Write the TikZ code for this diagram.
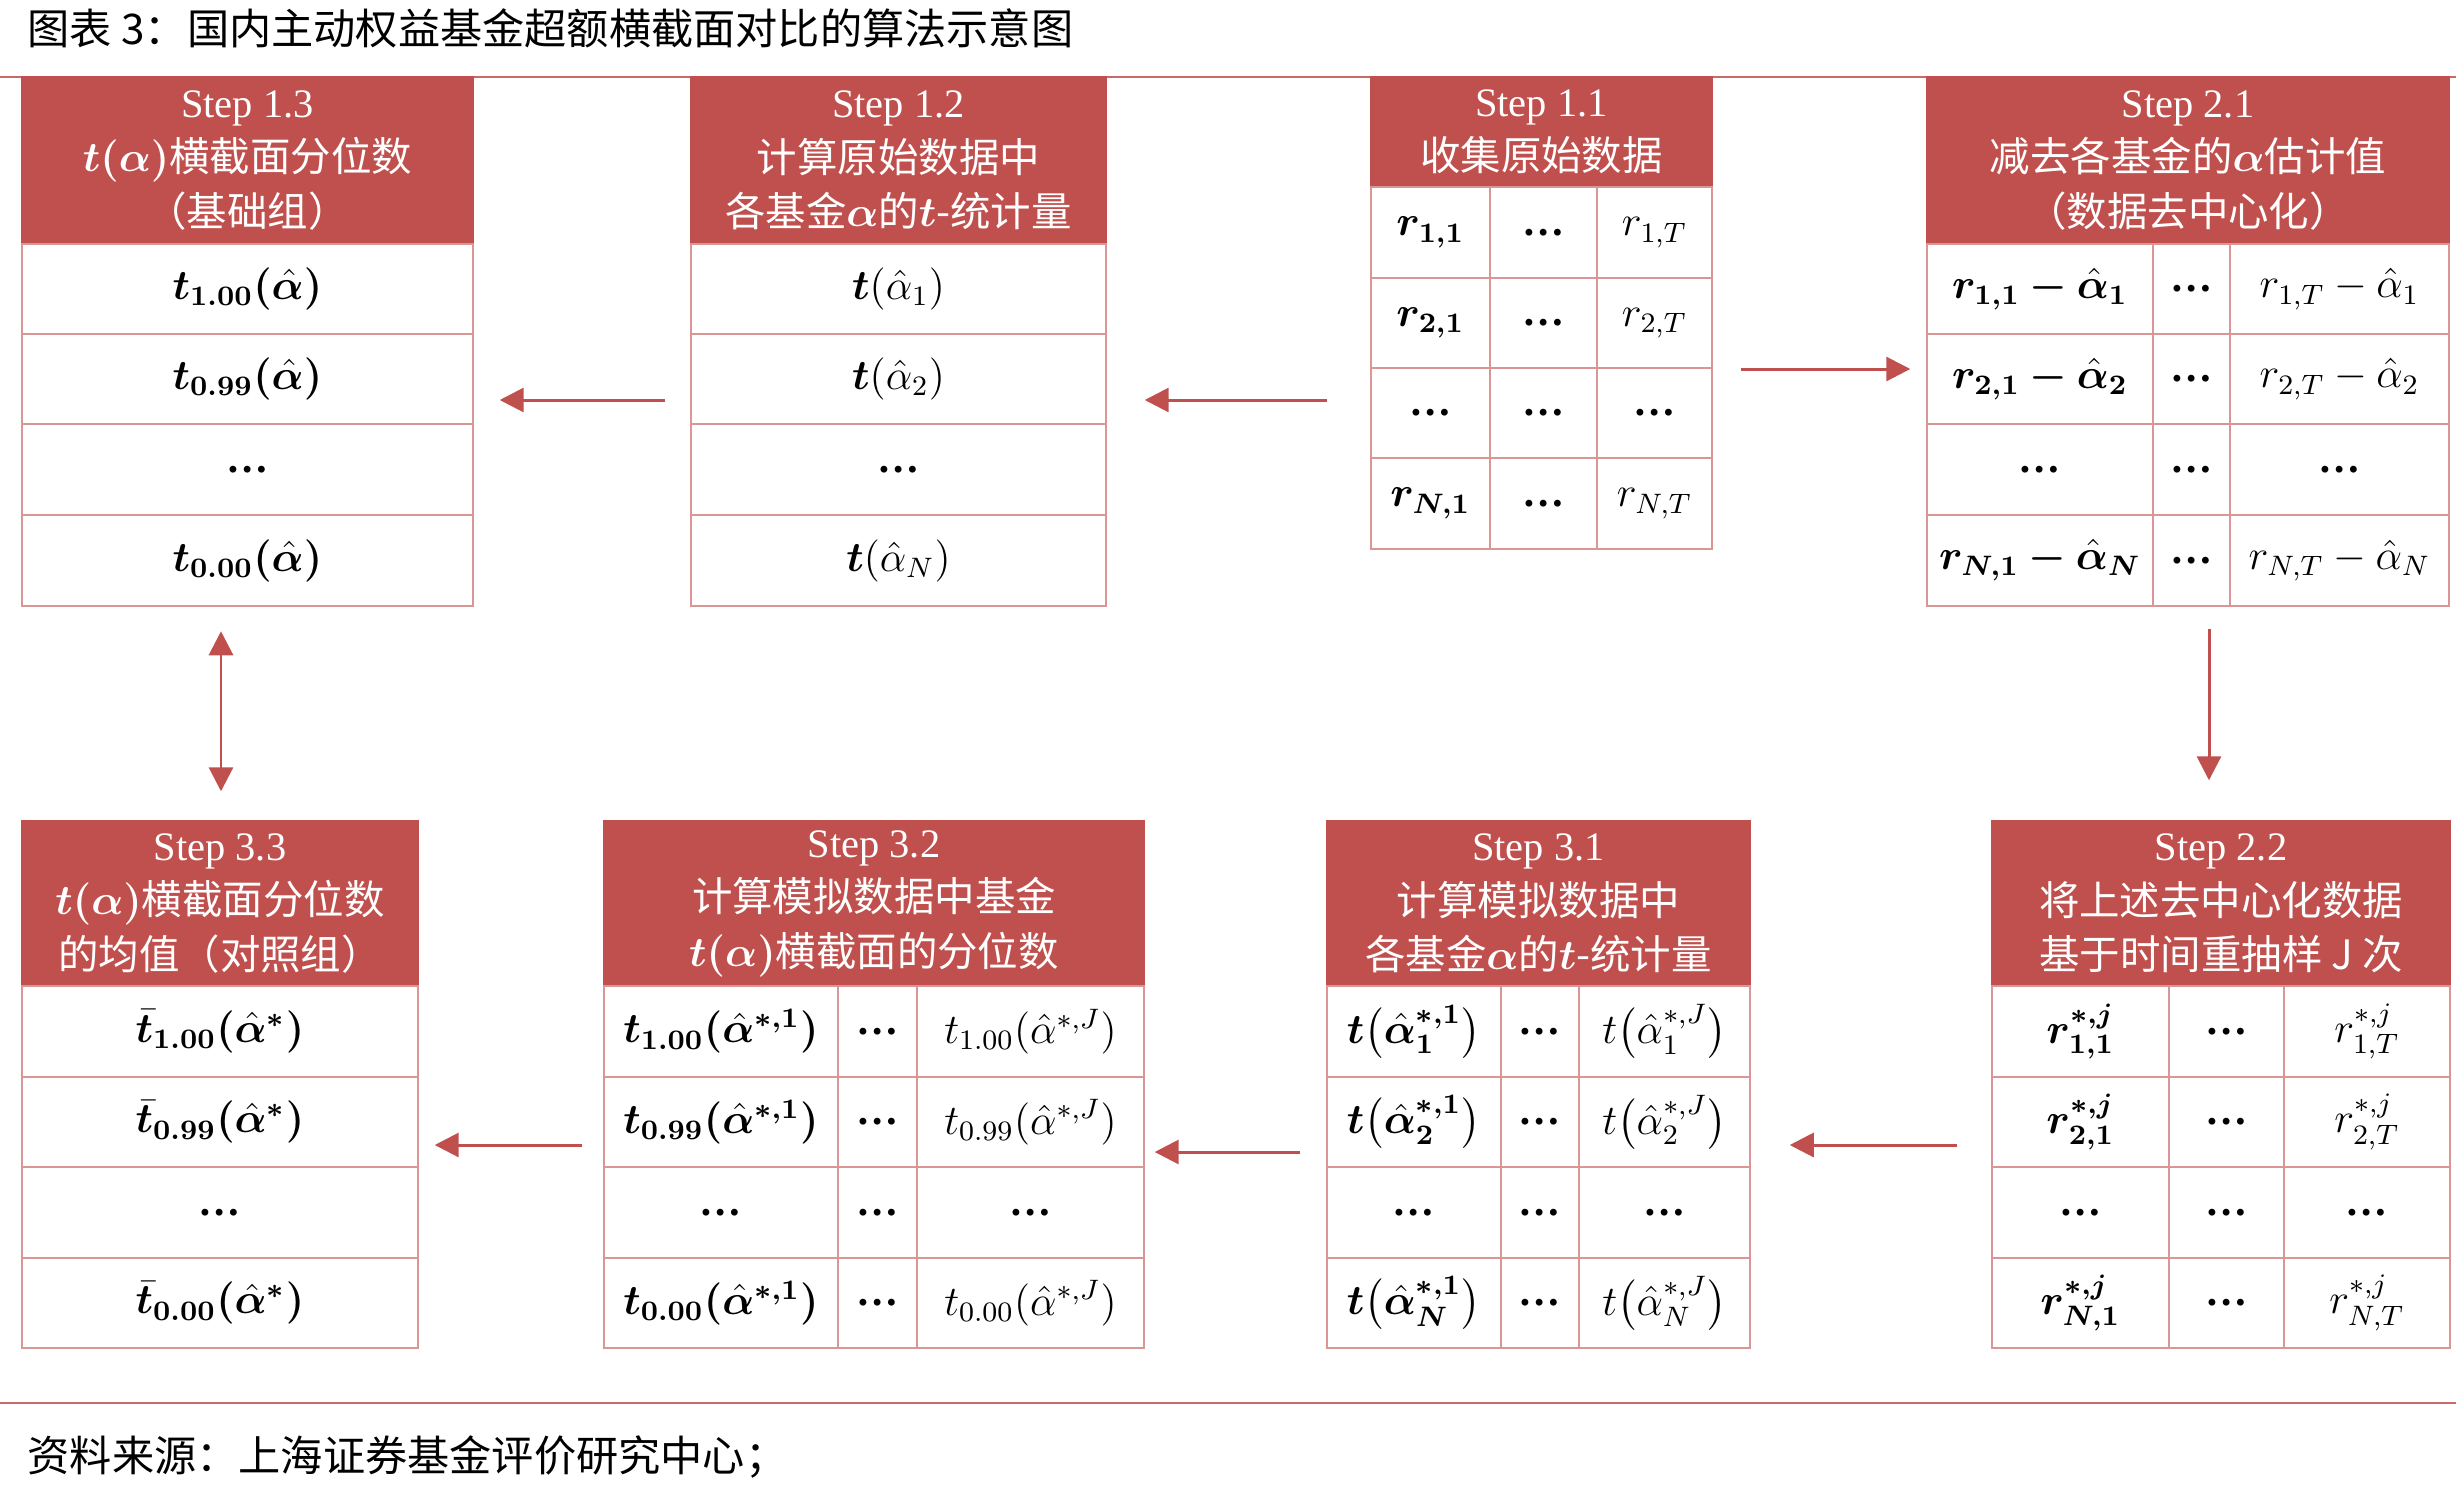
\documentclass[tikz,border=0pt]{standalone}
\usepackage{amsmath}
\usepackage{bm}
\usepackage{fontspec}
\setmainfont{Liberation Serif}
\newfontfamily\cjk{Noto Sans CJK SC}
\usetikzlibrary{arrows.meta}
\definecolor{hdred}{HTML}{C0504D}
\definecolor{cellpink}{HTML}{DA9694}
\newcommand\dotcell{\textbf{…}}

\tikzset{
  cellspan/.style n args={4}{minimum width={(#3-#1)*0.01cm},
    minimum height={(#4-#2)*0.01cm}, at={({(#1+#3)/2},{(#2+#4)/2})}},
  hdr/.style={fill=hdred, draw=hdred, text=white, inner sep=0pt, align=center,
    font=\cjk\fontsize{11.5}{15.5}\selectfont},
  cell/.style={draw=cellpink, line width=0.7pt, inner sep=0pt,
    font=\fontsize{12}{14}\selectfont},
  flow/.style={draw=hdred, line width=0.85pt,
    >={Triangle[length=0.24cm,width=0.24cm]}, ->},
  twoway/.style={flow, <->},
  rule/.style={draw=hdred!85, line width=0.6pt},
  caption/.style={anchor=west, inner sep=0pt, font=\cjk\fontsize{12}{14}\selectfont},
}

\begin{document}
\begin{tikzpicture}[x=0.01cm,y=-0.01cm]
  \useasboundingbox (0,0) rectangle (2456,1493);

  \node[caption] (title) at (27,28) {图表 3：国内主动权益基金超额横截面对比的算法示意图};
  \node[caption] (source) at (27,1457) {资料来源：上海证券基金评价研究中心；};
  \draw[rule] (0,77) -- (2456,77);
  \draw[rule] (0,1403) -- (2456,1403);

  % headers
  \node[hdr, cellspan={22}{77}{473}{244}] (h13)
    {\textrm{Step 1.3}\\$\bm{t(\alpha)}$横截面分位数\\（基础组）};
  \node[hdr, cellspan={691}{77}{1106}{244}] (h12)
    {\textrm{Step 1.2}\\计算原始数据中\\各基金$\bm{\alpha}$的$\bm{t}$-统计量};
  \node[hdr, cellspan={1371}{77}{1712}{187}] (h11)
    {\textrm{Step 1.1}\\收集原始数据};
  \node[hdr, cellspan={1927}{77}{2449}{244}] (h21)
    {\textrm{Step 2.1}\\减去各基金的$\bm{\alpha}$估计值\\（数据去中心化）};
  \node[hdr, cellspan={22}{821}{418}{986}] (h33)
    {\textrm{Step 3.3}\\$\bm{t(\alpha)}$横截面分位数\\的均值（对照组）};
  \node[hdr, cellspan={604}{821}{1144}{986}] (h32)
    {\textrm{Step 3.2}\\计算模拟数据中基金\\$\bm{t(\alpha)}$横截面的分位数};
  \node[hdr, cellspan={1327}{821}{1750}{986}] (h31)
    {\textrm{Step 3.1}\\计算模拟数据中\\各基金$\bm{\alpha}$的$\bm{t}$-统计量};
  \node[hdr, cellspan={1992}{821}{2450}{986}] (h22)
    {\textrm{Step 2.2}\\将上述去中心化数据\\基于时间重抽样 J 次};

  % one-column tables
  \foreach \ya/\yb/\val [count=\i] in {244/334/{$\bm{t_{1.00}(\hat\alpha)}$},
      334/424/{$\bm{t_{0.99}(\hat\alpha)}$}, 424/515/\dotcell,
      515/606/{$\bm{t_{0.00}(\hat\alpha)}$}}
    \node[cell, cellspan={22}{\ya}{473}{\yb}] (c13-\i) {\val};

  \foreach \ya/\yb/\val [count=\i] in {244/334/{$\bm{t}(\hat\alpha_1)$},
      334/424/{$\bm{t}(\hat\alpha_2)$}, 424/515/\dotcell,
      515/606/{$\bm{t}(\hat\alpha_N)$}}
    \node[cell, cellspan={691}{\ya}{1106}{\yb}] (c12-\i) {\val};

  \foreach \ya/\yb/\val [count=\i] in {986/1077/{$\bm{\bar t_{1.00}(\hat\alpha^{*})}$},
      1077/1167/{$\bm{\bar t_{0.99}(\hat\alpha^{*})}$}, 1167/1258/\dotcell,
      1258/1348/{$\bm{\bar t_{0.00}(\hat\alpha^{*})}$}}
    \node[cell, cellspan={22}{\ya}{418}{\yb}] (c33-\i) {\val};

  % three-column tables
  \foreach \ya/\yb/\ca/\cb/\cc [count=\i] in {
      187/278/{$\bm{r_{1,1}}$}/\dotcell/{$r_{1,T}$},
      278/368/{$\bm{r_{2,1}}$}/\dotcell/{$r_{2,T}$},
      368/458/\dotcell/\dotcell/\dotcell,
      458/549/{$\bm{r_{N,1}}$}/\dotcell/{$r_{N,T}$}} {
    \node[cell, cellspan={1371}{\ya}{1490}{\yb}] (c11-\i-1) {\ca};
    \node[cell, cellspan={1490}{\ya}{1597}{\yb}] (c11-\i-2) {\cb};
    \node[cell, cellspan={1597}{\ya}{1712}{\yb}] (c11-\i-3) {\cc};
  }

  \foreach \ya/\yb/\ca/\cb/\cc [count=\i] in {
      244/334/{$\bm{r_{1,1}-\hat\alpha_1}$}/\dotcell/{$r_{1,T}-\hat\alpha_1$},
      334/424/{$\bm{r_{2,1}-\hat\alpha_2}$}/\dotcell/{$r_{2,T}-\hat\alpha_2$},
      424/515/\dotcell/\dotcell/\dotcell,
      515/606/{$\bm{r_{N,1}-\hat\alpha_N}$}/\dotcell/{$r_{N,T}-\hat\alpha_N$}} {
    \node[cell, cellspan={1927}{\ya}{2153}{\yb}] (c21-\i-1) {\ca};
    \node[cell, cellspan={2153}{\ya}{2230}{\yb}] (c21-\i-2) {\cb};
    \node[cell, cellspan={2230}{\ya}{2449}{\yb}] (c21-\i-3) {\cc};
  }

  \foreach \ya/\yb/\ca/\cb/\cc [count=\i] in {
      986/1077/{$\bm{r^{*,j}_{1,1}}$}/\dotcell/{$r^{*,j}_{1,T}$},
      1077/1167/{$\bm{r^{*,j}_{2,1}}$}/\dotcell/{$r^{*,j}_{2,T}$},
      1167/1258/\dotcell/\dotcell/\dotcell,
      1258/1348/{$\bm{r^{*,j}_{N,1}}$}/\dotcell/{$r^{*,j}_{N,T}$}} {
    \node[cell, cellspan={1992}{\ya}{2169}{\yb}] (c22-\i-1) {\ca};
    \node[cell, cellspan={2169}{\ya}{2284}{\yb}] (c22-\i-2) {\cb};
    \node[cell, cellspan={2284}{\ya}{2450}{\yb}] (c22-\i-3) {\cc};
  }

  \foreach \ya/\yb/\ca/\cb/\cc [count=\i] in {
      986/1077/{$\bm{t}\bigl(\bm{\hat\alpha^{*,1}_1}\bigr)$}/\dotcell/{$t\bigl(\hat\alpha^{*,J}_1\bigr)$},
      1077/1167/{$\bm{t}\bigl(\bm{\hat\alpha^{*,1}_2}\bigr)$}/\dotcell/{$t\bigl(\hat\alpha^{*,J}_2\bigr)$},
      1167/1258/\dotcell/\dotcell/\dotcell,
      1258/1348/{$\bm{t}\bigl(\bm{\hat\alpha^{*,1}_N}\bigr)$}/\dotcell/{$t\bigl(\hat\alpha^{*,J}_N\bigr)$}} {
    \node[cell, cellspan={1327}{\ya}{1501}{\yb}] (c31-\i-1) {\ca};
    \node[cell, cellspan={1501}{\ya}{1579}{\yb}] (c31-\i-2) {\cb};
    \node[cell, cellspan={1579}{\ya}{1750}{\yb}] (c31-\i-3) {\cc};
  }

  \foreach \ya/\yb/\ca/\cb/\cc [count=\i] in {
      986/1077/{$\bm{t_{1.00}(\hat\alpha^{*,1})}$}/\dotcell/{$t_{1.00}(\hat\alpha^{*,J})$},
      1077/1167/{$\bm{t_{0.99}(\hat\alpha^{*,1})}$}/\dotcell/{$t_{0.99}(\hat\alpha^{*,J})$},
      1167/1258/\dotcell/\dotcell/\dotcell,
      1258/1348/{$\bm{t_{0.00}(\hat\alpha^{*,1})}$}/\dotcell/{$t_{0.00}(\hat\alpha^{*,J})$}} {
    \node[cell, cellspan={604}{\ya}{838}{\yb}] (c32-\i-1) {\ca};
    \node[cell, cellspan={838}{\ya}{917}{\yb}] (c32-\i-2) {\cb};
    \node[cell, cellspan={917}{\ya}{1144}{\yb}] (c32-\i-3) {\cc};
  }

  % arrows
  \draw[flow, shorten <=0.43cm, shorten >=0.38cm] (h11.west |- 0,400) -- (h12.east |- 0,400);
  \draw[flow, shorten <=0.25cm, shorten >=0.26cm] (h12.west |- 0,400) -- (h13.east |- 0,400);
  \draw[flow, shorten <=0.28cm, shorten >=0.16cm] (h11.east |- 0,369) -- (h21.west |- 0,369);
  \draw[flow, shorten <=0.22cm, shorten >=0.40cm] (2209,0 |- c21-4-1.south) -- (2209,0 |- h22.north);
  \draw[flow, shorten <=0.34cm, shorten >=0.39cm] (h22.west |- 0,1145) -- (h31.east |- 0,1145);
  \draw[flow, shorten <=0.26cm, shorten >=0.10cm] (h31.west |- 0,1152) -- (h32.east |- 0,1152);
  \draw[flow, shorten <=0.21cm, shorten >=0.16cm] (h32.west |- 0,1145) -- (h33.east |- 0,1145);
  \draw[twoway, shorten <=0.24cm, shorten >=0.29cm] (221,0 |- c13-4.south) -- (221,0 |- h33.north);

\end{tikzpicture}
\end{document}
